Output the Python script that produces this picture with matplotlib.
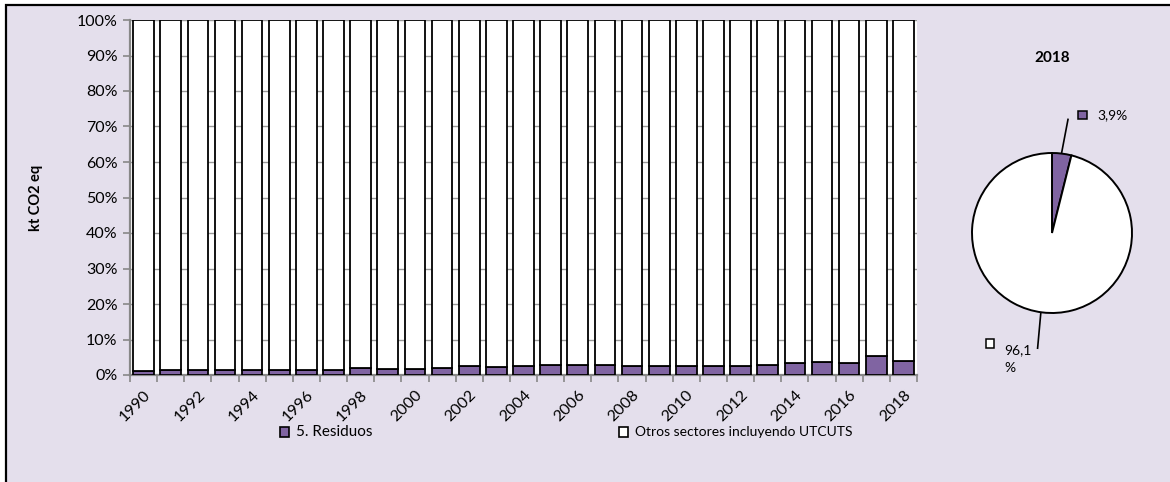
import matplotlib
matplotlib.use("Agg")
import matplotlib.pyplot as plt
from matplotlib.patches import Rectangle
import numpy as np

plt.rcParams['font.family'] = ['Lato', 'DejaVu Sans']

# datos (% del total)
years = list(range(1990, 2019))
residuos = [1.2, 1.3, 1.3, 1.4, 1.4, 1.4, 1.4, 1.4, 1.9, 1.6,
            1.6, 2.0, 2.4, 2.3, 2.5, 2.7, 2.9, 2.7, 2.6, 2.4,
            2.4, 2.5, 2.5, 2.8, 3.3, 3.6, 3.3, 5.3, 3.9]
otros = [100 - r for r in residuos]
pie_labels = ['3,9%', '96,1\n%']
pie_values = [3.9, 96.1]
series_names = ['5. Residuos', 'Otros sectores incluyendo UTCUTS']
ytick_labels = ['0%', '10%', '20%', '30%', '40%', '50%', '60%', '70%', '80%', '90%', '100%']

purple = '#8064A2'
bg = '#E4DFEC'
W, H = 1170, 482

fig = plt.figure(figsize=(W / 100, H / 100), dpi=100)
fig.patch.set_facecolor('white')
fig.patches.append(Rectangle((6 / W, -0.05), 1.1, 1 - 5 / H + 0.05,
                             transform=fig.transFigure, facecolor=bg,
                             edgecolor='black', linewidth=1.6, zorder=-5))

# barras apiladas
ax = fig.add_axes([130 / W, 1 - 375 / H, (917 - 130) / W, (375 - 20) / H])
ax.set_facecolor('white')
x = np.arange(len(years))
ax.bar(x, residuos, width=0.76, color=purple, edgecolor='black', linewidth=1.3, zorder=3)
ax.bar(x, otros, bottom=residuos, width=0.76, color='white', edgecolor='black', linewidth=1.3, zorder=3)
ax.set_xlim(-0.5, len(years) - 0.5)
ax.set_ylim(0, 100)
ax.set_yticks(np.arange(0, 101, 10))
ax.set_yticklabels(ytick_labels, fontsize=11.5)
ax.set_xticks(np.arange(-0.5, len(years), 1), minor=False)
ax.set_xticklabels([])
ax.set_xticks(x[::2], minor=True)
ax.set_xticklabels([str(y) for y in years[::2]], minor=True, rotation=45,
                   ha='right', va='top', rotation_mode='anchor', fontsize=11.5)
ax.tick_params(axis='x', which='major', length=5, color='#888888', width=1.2)
ax.tick_params(axis='x', which='minor', length=0, pad=9)
ax.tick_params(axis='y', length=5, color='#888888', width=1.2, pad=4)
ax.grid(axis='y', color='#999999', linewidth=1, zorder=0)
for s in ['top', 'right']:
    ax.spines[s].set_visible(False)
ax.spines['left'].set_color('#888888')
ax.spines['left'].set_linewidth(1.6)
ax.spines['bottom'].set_color('#888888')
ax.spines['bottom'].set_linewidth(1.6)
ax.set_ylabel('kt CO2 eq', fontsize=10.5, fontweight='bold', labelpad=24)

# leyenda
fig.patches.append(Rectangle((280 / W, 1 - 437 / H), 9 / W, 10 / H,
                             transform=fig.transFigure, facecolor=purple,
                             edgecolor='black', linewidth=1.2))
fig.text(296 / W, 1 - 432 / H, series_names[0], fontsize=11, ha='left', va='center')
fig.patches.append(Rectangle((619 / W, 1 - 437 / H), 9 / W, 10 / H,
                             transform=fig.transFigure, facecolor='white',
                             edgecolor='black', linewidth=1.2))
fig.text(635 / W, 1 - 432 / H, series_names[1], fontsize=10, ha='left', va='center')

# tarta 2018
cx, cy, r = 1052, 233, 80
pax = fig.add_axes([930 / W, 1 - 420 / H, 240 / W, 390 / H])
pax.axis('off')
pax.pie(pie_values, colors=[purple, 'white'], startangle=90, counterclock=False,
        radius=1, wedgeprops=dict(edgecolor='black', linewidth=1.4))
pax.set_xlim((930 - cx) / r, (1170 - cx) / r)
pax.set_ylim(-(420 - cy) / r, (cy - 30) / r)
pax.set_aspect('auto')
pax.text(0, 2.19, '2018', fontsize=11, fontweight='bold', ha='center', va='center')
pax.plot([0.12, 0.2], [1.0, 1.42], color='black', linewidth=1.2)
pax.add_patch(Rectangle((0.33, 1.42), 0.11, 0.11, facecolor=purple, edgecolor='black', linewidth=1.1))
pax.text(0.57, 1.475, pie_labels[0], fontsize=10, ha='left', va='center')
pax.plot([-0.14, -0.18], [-1.0, -1.44], color='black', linewidth=1.2)
pax.add_patch(Rectangle((-0.83, -1.44), 0.11, 0.11, facecolor='white', edgecolor='black', linewidth=1.1))
pax.text(-0.6, -1.39, pie_labels[1], fontsize=10, ha='left', va='top', linespacing=1.6)

fig.savefig('out.png', dpi=100, facecolor=fig.get_facecolor())
